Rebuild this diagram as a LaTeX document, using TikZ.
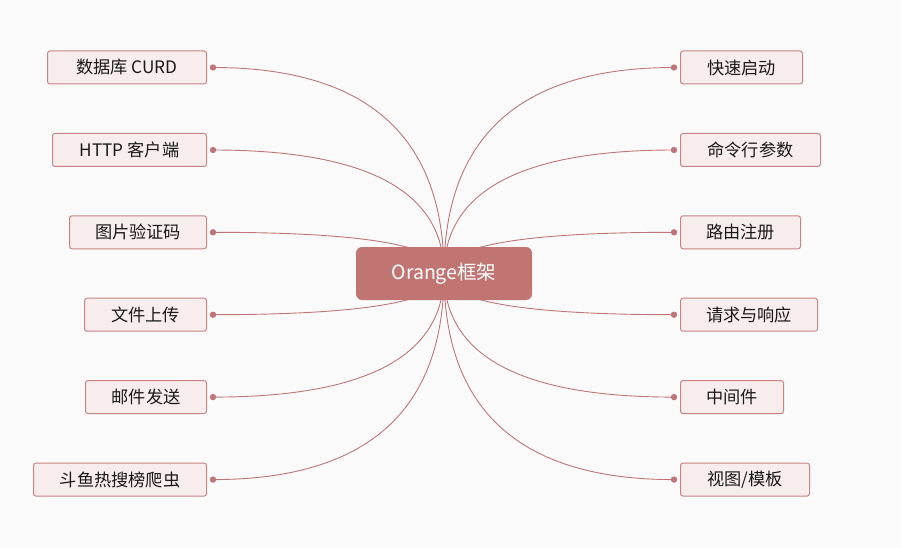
\documentclass[tikz,border=0pt]{standalone}
\usepackage{fontspec}
\setmainfont{Noto Sans CJK SC}
\usetikzlibrary{calc}
\definecolor{bgc}{RGB}{250,250,250}
\definecolor{rootfill}{RGB}{192,117,115}
\definecolor{leaffill}{RGB}{248,237,237}
\definecolor{leafdraw}{RGB}{200,132,132}
\definecolor{edgec}{RGB}{192,118,120}
\tikzset{
  leaf/.style={draw=leafdraw, fill=leaffill, line width=1pt, rounded corners=2.5pt,
    minimum height=33pt, inner sep=0pt, text=black!90,
    font=\fontsize{17.2}{20}\selectfont},
  rootbox/.style={draw=none, fill=rootfill, rounded corners=6pt,
    minimum width=176pt, minimum height=53pt, inner sep=0pt, text=white,
    font=\fontsize{19.5}{22}\selectfont},
  edge/.style={draw=edgec, line width=0.9pt},
  dotc/.style={fill=edgec, draw=none}
}
\begin{document}
\begin{tikzpicture}[x=1pt,y=-1pt]
\fill[bgc] (0,0) rectangle (901,548);
\useasboundingbox (0,0) rectangle (901,548);
% left leaves
\node[leaf, anchor=east, minimum width=159pt] (l1) at (207,67.5) {数据库 CURD};
\node[leaf, anchor=east, minimum width=154pt] (l2) at (207,150) {HTTP 客户端};
\node[leaf, anchor=east, minimum width=137pt] (l3) at (207,232.3) {图片验证码};
\node[leaf, anchor=east, minimum width=122pt] (l4) at (207,314.7) {文件上传};
\node[leaf, anchor=east, minimum width=121pt] (l5) at (207,397.1) {邮件发送};
\node[leaf, anchor=east, minimum width=173pt] (l6) at (207,479.6) {斗鱼热搜榜爬虫};
% right leaves
\node[leaf, anchor=west, minimum width=122pt] (r1) at (680,67.5) {快速启动};
\node[leaf, anchor=west, minimum width=140pt] (r2) at (680,150) {命令行参数};
\node[leaf, anchor=west, minimum width=120pt] (r3) at (680,232.3) {路由注册};
\node[leaf, anchor=west, minimum width=137pt] (r4) at (680,314.7) {请求与响应};
\node[leaf, anchor=west, minimum width=103pt] (r5) at (680,397.1) {中间件};
\node[leaf, anchor=west, minimum width=129pt] (r6) at (680,479.6) {视图/模板};
% root center
\coordinate (rc) at (444,273.5);
% dots and curves
\foreach \n in {l1,l2,l3,l4,l5,l6}{
  \coordinate (d\n) at ($(\n.east)+(6,0)$);
  \draw[edge] (d\n) .. controls ($(d\n)!2/3!(rc|-d\n)$) and ($(rc)!2/3!(rc|-d\n)$) .. (rc);
  \fill[dotc] (d\n) circle (3.2pt);
}
\foreach \n in {r1,r2,r3,r4,r5,r6}{
  \coordinate (d\n) at ($(\n.west)+(-6,0)$);
  \draw[edge] (d\n) .. controls ($(d\n)!2/3!(rc|-d\n)$) and ($(rc)!2/3!(rc|-d\n)$) .. (rc);
  \fill[dotc] (d\n) circle (3.2pt);
}
\node[rootbox] (root) at (rc) {Orange框架};
\end{tikzpicture}
\end{document}
